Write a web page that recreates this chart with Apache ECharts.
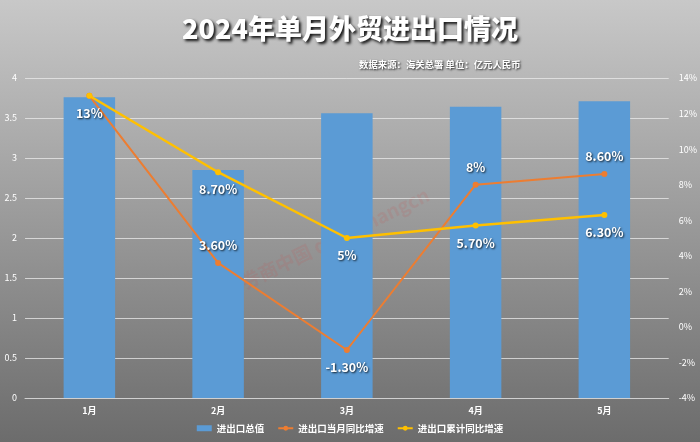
<!DOCTYPE html>
<html><head><meta charset="utf-8">
<script src="https://cdn.jsdelivr.net/npm/echarts@6/dist/echarts.min.js"></script>
<style>html,body{margin:0;padding:0;}#c{width:700px;height:442px;}</style>
</head><body><div id="c"></div>
<script>
var categories = ['1月','2月','3月','4月','5月'];
var totalValue = [3.76, 2.85, 3.56, 3.64, 3.71];
var monthlyYoY = [13, 3.6, -1.3, 8, 8.6];
var cumulativeYoY = [13, 8.7, 5, 5.7, 6.3];
var monthlyLabels = ['13%','3.60%','-1.30%','8%','8.60%'];
var cumulativeLabels = ['13%','8.70%','5%','5.70%','6.30%'];
var leftTicks = [0,0.5,1,1.5,2,2.5,3,3.5,4];
var rightTicks = ['-4%','-2%','0%','2%','4%','6%','8%','10%','12%','14%'];
var seriesNames = ['进出口总值','进出口当月同比增速','进出口累计同比增速'];

var chart = echarts.init(document.getElementById('c'));
var font = '"Noto Sans CJK SC", "Noto Sans", sans-serif';
var labelStyle = {color:'#fff', fontWeight:'bold', fontSize:12.5, fontFamily:font,
  textShadowColor:'rgba(0,0,0,0.8)', textShadowBlur:2, textShadowOffsetX:1, textShadowOffsetY:1};
var monthlyPos = ['inside','top','bottom','top','top'];
var cumulativePos = ['bottom','bottom','bottom','bottom','bottom'];
function mk(vals, labels, pos, hideFirst){
  return vals.map(function(v,i){
    return {value:v, label:{show:!(hideFirst&&i===0), position:pos[i], distance:8, formatter:labels[i]}};
  });
}
chart.setOption({
  backgroundColor: new echarts.graphic.LinearGradient(0,0,0,1,[{offset:0,color:'#c8c8c8'},{offset:1,color:'#6c6c6c'}]),
  title:[{text:'2024年单月外贸进出口情况', left:'center', top:10,
    textStyle:{color:'#fff', fontSize:27, fontWeight:900, fontFamily:font,
      textShadowColor:'rgba(0,0,0,0.9)', textShadowBlur:3, textShadowOffsetX:2, textShadowOffsetY:2}},
    {text:'数据来源：海关总署 单位：亿元人民币', left:354, top:55,
    textStyle:{color:'#fff', fontSize:9.4, fontWeight:'bold', fontFamily:font,
      textShadowColor:'rgba(0,0,0,0.8)', textShadowBlur:2, textShadowOffsetX:1, textShadowOffsetY:1}}],
  grid:{left:25, right:30, top:78, bottom:44},
  legend:{bottom:4, left:'center', itemGap:13, itemWidth:15, itemHeight:6,
    textStyle:{color:'#fff', fontSize:9.5, fontWeight:'bold', fontFamily:font},
    data:[{name:seriesNames[0], icon:'rect'},{name:seriesNames[1]},{name:seriesNames[2]}]},
  xAxis:{type:'category', data:categories, axisTick:{show:false},
    axisLine:{lineStyle:{color:'#d0d0d0'}},
    axisLabel:{color:'#fff', fontSize:9, fontWeight:'bold', fontFamily:font, margin:8}},
  yAxis:[{type:'value', min:0, max:4, interval:0.5, position:'left',
    axisLabel:{color:'#fff', fontSize:9, fontFamily:font, margin:8},
    splitLine:{lineStyle:{color:'rgba(235,235,235,0.75)'}}, axisLine:{show:false}},
    {type:'value', min:-4, max:14, interval:2, position:'right',
    axisLabel:{color:'#fff', fontSize:9, fontFamily:font, margin:10, formatter:function(v){return v+'%';}},
    splitLine:{show:false}, axisLine:{show:false}}],
  series:[
    {name:seriesNames[0], type:'bar', data:totalValue, barWidth:'40%', itemStyle:{color:'#5b9bd5'}, z:1},
    {name:seriesNames[1], type:'line', yAxisIndex:1, data:mk(monthlyYoY, monthlyLabels, monthlyPos, true),
      symbol:'circle', symbolSize:6, lineStyle:{color:'#ed7d31', width:2}, itemStyle:{color:'#ed7d31'},
      label:Object.assign({show:true}, labelStyle), z:3},
    {name:seriesNames[2], type:'line', yAxisIndex:1, data:mk(cumulativeYoY, cumulativeLabels, cumulativePos, false),
      symbol:'circle', symbolSize:6, lineStyle:{color:'#ffc000', width:2.5}, itemStyle:{color:'#ffc000'},
      label:Object.assign({show:true}, labelStyle), z:4}
  ],
  graphic:[{type:'text', left:238, top:185, rotation:0.45, z:0,
    style:{text:'券商中国 quanshangcn', fill:'rgba(200,80,80,0.15)', font:'bold 19px '+font}}]
});
</script></body></html>
